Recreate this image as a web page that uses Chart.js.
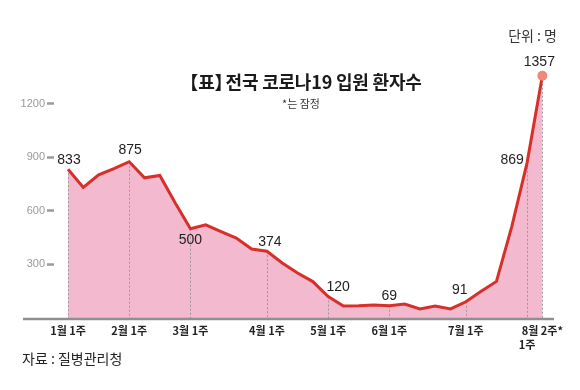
<!DOCTYPE html>
<html>
<head>
<meta charset="utf-8">
<script src="https://cdn.jsdelivr.net/npm/chart.js@4"></script>
<style>
  html, body { margin: 0; padding: 0; background: #fff; }
  #wrap { position: relative; width: 580px; height: 390px; overflow: hidden; }
  #wrap canvas { position: absolute; left: 0; top: 0; }
  .txt { position: absolute; white-space: nowrap; line-height: 1; font-family: "Noto Sans CJK KR", "Noto Sans", sans-serif; color: #222; }
  #title { left: 301px; top: 72px; transform: translateX(-50%); font-size: 18px; font-weight: 700; color: #1a1a1a; letter-spacing: -0.2px; }
  #title .tight { letter-spacing: -7px; }
  #sub { left: 301px; top: 98px; transform: translateX(-50%); font-size: 11px; color: #333; }
  #unit { right: 23px; top: 28px; font-size: 14px; color: #333; }
  #source { left: 22px; top: 351px; font-size: 14px; color: #222; }
</style>
</head>
<body>
<div id="wrap">
  <canvas id="chart" width="580" height="390"></canvas>
  <div class="txt" id="unit">단위 : 명</div>
  <div class="txt" id="title">【표<span class="tight">】</span>전국 코로나19 입원 환자수</div>
  <div class="txt" id="sub">*는 잠정</div>
  <div class="txt" id="source">자료 : 질병관리청</div>
</div>
<script>
// weekly hospital admissions, 1월 1주 ~ 8월 2주
const weeks = [
  '1월 1주', '1월 2주', '1월 3주', '1월 4주',
  '2월 1주', '2월 2주', '2월 3주', '2월 4주',
  '3월 1주', '3월 2주', '3월 3주', '3월 4주', '3월 5주',
  '4월 1주', '4월 2주', '4월 3주', '4월 4주',
  '5월 1주', '5월 2주', '5월 3주', '5월 4주',
  '6월 1주', '6월 2주', '6월 3주', '6월 4주', '6월 5주',
  '7월 1주', '7월 2주', '7월 3주', '7월 4주',
  '8월 1주', '8월 2주*'
];
const patients = [
  833, 731, 802, 836,
  875, 785, 798, 645,
  500, 522, 484, 448, 386,
  374, 308, 252, 204,
  120, 67, 69, 73,
  69, 78, 51, 67, 51,
  91, 150, 205, 512,
  869, 1357
];
// weeks that get an axis label, a dotted guide and a value label
const markedWeeks = [0, 4, 8, 13, 17, 21, 26, 30, 31];
const tickLabels = ['1월 1주', '2월 1주', '3월 1주', '4월 1주', '5월 1주', '6월 1주', '7월 1주', ['', '1주'], '8월 2주*'];
const yTicks = [300, 600, 900, 1200];

// value label placement (offset from the point, px)
const labelOffsets = {
  0: [1, -9], 4: [1, -12], 8: [0, 11], 13: [3, -9], 17: [10, -9],
  21: [0, -10], 26: [-6, -12], 30: [-15, -3], 31: [-3, -14]
};

const guides = {
  id: 'guides',
  beforeDatasetsDraw(chart) {
    const { ctx } = chart;
    const y0 = chart.scales.y.getPixelForValue(0);
    const pts = chart.getDatasetMeta(0).data;
    ctx.save();
    ctx.strokeStyle = '#9a9a9a';
    ctx.lineWidth = 1;
    ctx.setLineDash([2, 2]);
    markedWeeks.forEach(i => {
      const x = Math.round(pts[i].x) + 0.5;
      ctx.beginPath();
      ctx.moveTo(x, pts[i].y);
      ctx.lineTo(x, y0);
      ctx.stroke();
    });
    ctx.restore();
  },
  afterDatasetsDraw(chart) {
    const { ctx, chartArea } = chart;
    const y0 = chart.scales.y.getPixelForValue(0);
    ctx.save();
    // baseline
    ctx.strokeStyle = '#8f8f8f';
    ctx.lineWidth = 2.5;
    ctx.beginPath();
    ctx.moveTo(23, y0 + 1);
    ctx.lineTo(chartArea.right, y0 + 1);
    ctx.stroke();
    // value labels
    const pts = chart.getDatasetMeta(0).data;
    ctx.fillStyle = '#1e1e1e';
    ctx.font = '14px "Liberation Sans", Arial, sans-serif';
    ctx.textAlign = 'center';
    ctx.textBaseline = 'middle';
    markedWeeks.forEach(i => {
      const [dx, dy] = labelOffsets[i];
      ctx.fillText(String(patients[i]), pts[i].x + dx, pts[i].y + dy);
    });
    ctx.restore();
  }
};

new Chart(document.getElementById('chart'), {
  type: 'line',
  data: {
    datasets: [
      {
        data: patients.map((v, i) => ({ x: i, y: v })),
        borderColor: '#d7302a',
        borderWidth: 3,
        backgroundColor: '#f2b9cf',
        fill: 'origin',
        tension: 0,
        pointRadius: ctx => (ctx.dataIndex === patients.length - 1 ? 5 : 0),
        pointHoverRadius: 0,
        pointBackgroundColor: '#f0877c',
        pointBorderWidth: 0,
      },
    ],
  },
  options: {
    responsive: false,
    animation: false,
    events: [],
    layout: { padding: { left: 0, right: 26, top: 68, bottom: 22 } },
    scales: {
      x: {
        type: 'linear',
        min: -0.915,
        max: 31.76,
        afterBuildTicks: s => {
          s.ticks = markedWeeks.map(v => ({ value: v }));
        },
        afterFit: s => {
          s.height = 50;
        },
        border: { display: false },
        grid: { display: false, drawTicks: false },
        ticks: {
          autoSkip: false,
          maxRotation: 0,
          padding: 5,
          color: '#222',
          font: { family: '"Noto Sans CJK KR", sans-serif', size: 11, weight: 'bold', lineHeight: 1.35 },
          callback: (value, index) => tickLabels[index],
        },
      },
      y: {
        min: 0,
        max: 1400,
        afterBuildTicks: s => {
          s.ticks = yTicks.map(v => ({ value: v }));
        },
        afterFit: s => {
          s.width = 54;
        },
        border: { display: false },
        grid: {
          drawOnChartArea: false,
          drawTicks: true,
          tickLength: 7,
          tickWidth: 2.5,
          tickColor: '#9a9a9a',
        },
        ticks: {
          padding: 2,
          color: '#9a9a9a',
          font: { family: '"Liberation Sans", Arial, sans-serif', size: 11 },
          callback: value => String(value),
        },
      },
    },
    plugins: {
      legend: { display: false },
      tooltip: { enabled: false },
      filler: { drawTime: 'beforeDatasetsDraw' },
    },
  },
  plugins: [guides],
});
</script>
</body>
</html>
